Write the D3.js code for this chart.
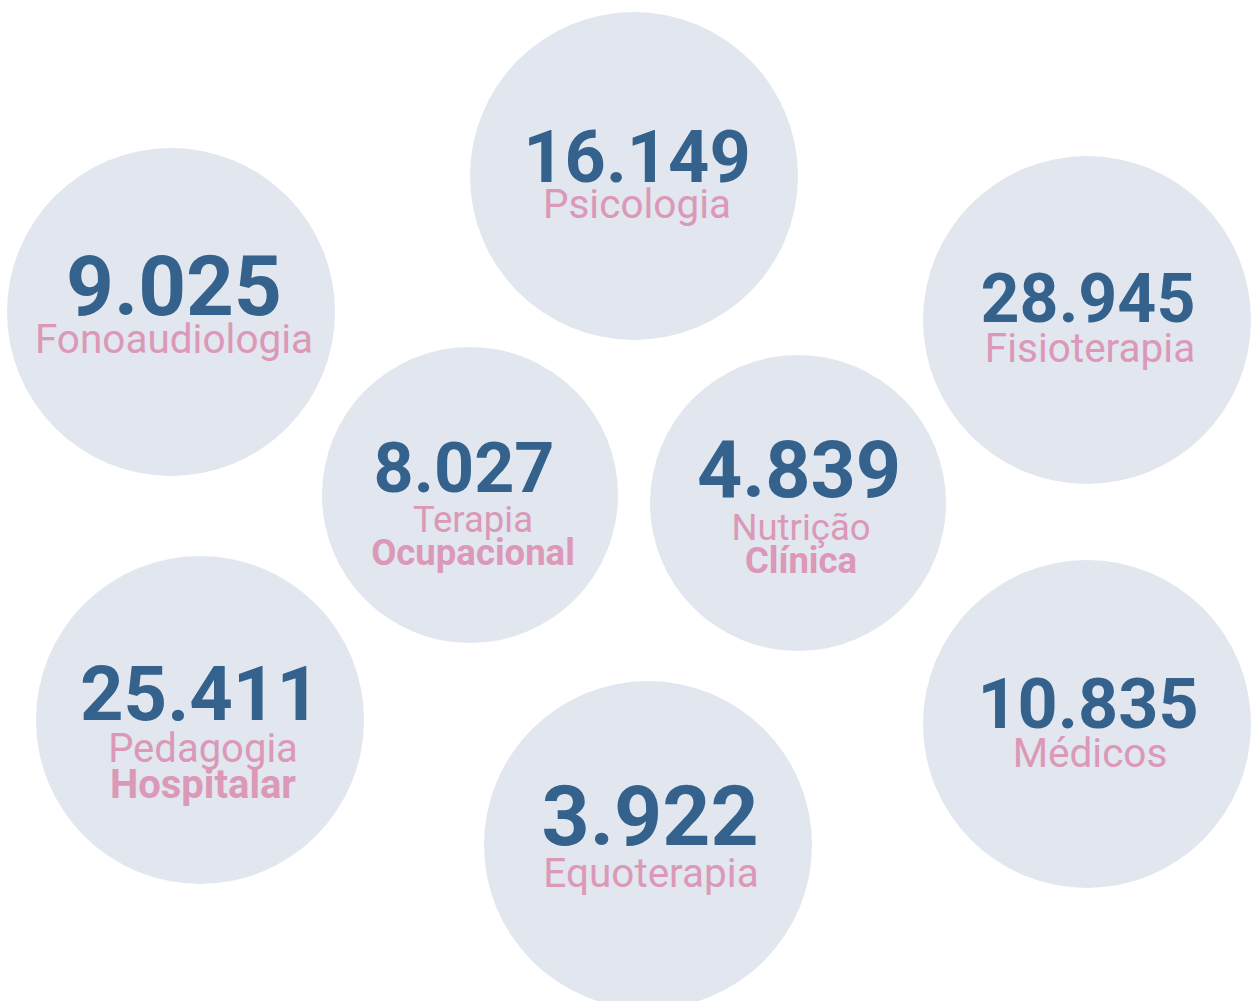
<!DOCTYPE html>
<html>
<head>
<meta charset="utf-8">
<script src="https://cdn.jsdelivr.net/npm/d3@7"></script>
<style>
  body { margin: 0; background: #fff; }
  svg text { font-family: Roboto, "Noto Sans", sans-serif; }
</style>
</head>
<body>
<div id="my_dataviz"></div>
<script>
// values shown in each bubble
const values = [16149, 9025, 28945, 8027, 4839, 25411, 3922, 10835];
const labels = ["Psicologia", "Fonoaudiologia", "Fisioterapia", "Terapia", "Nutrição", "Pedagogia", "Equoterapia", "Médicos"];
const labelsBold = ["", "", "", "Ocupacional", "Clínica", "Hospitalar", "", ""];

const width = 1253;
const height = 1001;

// bubble layout (not value driven: the source places them by hand)
// ny = number baseline, ly = label baseline, relative to centre
const slots = [
  {cx: 634, cy: 176, r: 164, num: 72, lab: 40.5, nx: 3, ny: 6, ly: 42},
  {cx: 171, cy: 312, r: 164, num: 83.5, lab: 40.5, nx: 3, ny: 3, ly: 41},
  {cx: 1087, cy: 320, r: 164, num: 68, lab: 40.5, nx: 1, ny: 2, ly: 42},
  {cx: 470, cy: 495, r: 148, num: 70, lab: 36.5, nx: -6, ny: -3, ly: 37},
  {cx: 798, cy: 503, r: 148, num: 79, lab: 36.5, nx: 1, ny: -6, ly: 37},
  {cx: 200, cy: 720, r: 164, num: 76, lab: 40, nx: 0, ny: 0, ly: 42},
  {cx: 648, cy: 845, r: 164, num: 84, lab: 40.5, nx: 2, ny: 0, ly: 42},
  {cx: 1087, cy: 724, r: 164, num: 70, lab: 40.5, nx: 1, ny: 4, ly: 43}
];

const data = values.map((v, i) => ({
  value: v, label: labels[i], bold: labelsBold[i], ...slots[i]
}));

const fmt = d3.formatLocale({decimal: ",", thousands: ".", grouping: [3], currency: ["R$", ""]}).format(",d");

const svg = d3.select("#my_dataviz")
  .append("svg")
    .attr("width", width)
    .attr("height", height);

const node = svg.selectAll("g.bubble")
  .data(data)
  .join("g")
    .attr("class", "bubble")
    .attr("transform", d => `translate(${d.cx},${d.cy})`);

node.append("circle")
  .attr("r", d => d.r)
  .style("fill", "#e1e6ef");

// big number
node.append("text")
  .attr("text-anchor", "middle")
  .attr("x", d => d.nx)
  .attr("y", d => d.ny)
  .style("font-weight", 700)
  .style("font-size", d => d.num + "px")
  .style("fill", "#34628c")
  .text(d => fmt(d.value));

// label, first line
node.append("text")
  .attr("text-anchor", "middle")
  .attr("x", 3)
  .attr("y", d => d.ly)
  .style("font-size", d => d.lab + "px")
  .style("fill", "#db98b7")
  .text(d => d.label);

// second line in bold
node.filter(d => d.bold)
  .append("text")
    .attr("text-anchor", "middle")
    .attr("x", 3)
    .attr("y", d => d.ly + d.lab * 0.9)
    .style("font-weight", 700)
    .style("font-size", d => d.lab + "px")
    .style("fill", "#db98b7")
    .text(d => d.bold);
</script>
</body>
</html>
